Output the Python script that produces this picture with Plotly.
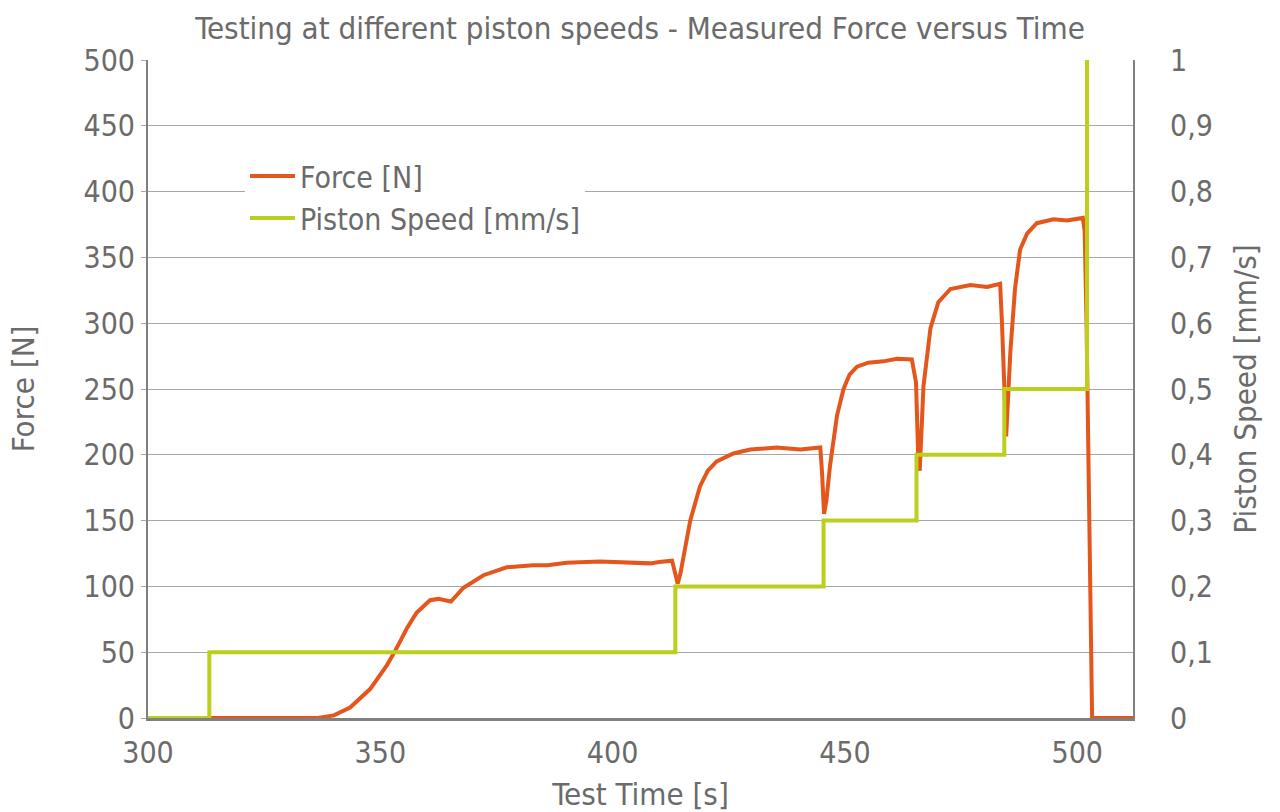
import plotly.graph_objects as go

# ---- data ----
force_time = [300, 336.5, 340, 343.5, 347.8, 351.4, 353.2, 355.7, 357.8, 359.5, 360.7, 362.5, 364.3, 365.2,
              367.9, 372.2, 377.2, 382.9, 386, 390.1, 397.3, 404.4, 408.1, 410, 412.8, 413.6, 414.0,
              414.6, 415.2, 416.7, 418.8, 420.5, 422.4, 426, 429.6, 435.3, 440.4, 444.7, 445.1, 445.5,
              446.0, 446.8, 448.3, 449.7, 451, 452.6, 455, 458.3, 461.2, 464.4, 465.3, 465.8, 466.1,
              466.5, 466.9, 468.4, 470.1, 472.7, 477, 480.6, 483.4, 483.8, 484.4, 484.7, 485.0, 485.6,
              486.6, 487.7, 489.2, 491.3, 494.9, 497.8, 501.2, 501.6, 502.0, 502.5, 503.2, 512]
force_value = [0, 0, 2, 8, 22, 40, 51, 68, 80, 86, 89.5, 90.5, 89.5, 88.5,
               99, 108.5, 114.5, 116, 116, 118, 119, 118.5, 117.5, 118.5, 119.5, 108, 102,
               110, 122, 150, 176, 188, 195, 201, 204, 205.5, 204, 205.5, 185, 155,
               165, 192, 230, 250, 261, 267, 270, 271, 273, 272.5, 255, 195, 188,
               225, 252, 296, 316, 326, 329, 327.5, 330, 300, 240, 214, 235, 278,
               326, 356, 368, 376, 379, 378, 380, 370, 300, 150, 0, 0]

speed_time = [300, 313.2, 413.5, 445.4, 465.4, 484.3, 502.1]
speed_value = [0, 0.1, 0.2, 0.3, 0.4, 0.5, 1.0]

x_ticks = [300, 350, 400, 450, 500]

FONT = "DejaVu Sans Condensed"
TXT = "#6b6b6b"
GRID = "#a8a8a8"
AXIS = "#808080"
ORANGE = "#e4561c"
GREEN = "#bccf1c"

fig = go.Figure()
fig.add_trace(go.Scatter(x=force_time, y=force_value, name="Force [N]", mode="lines",
                         line=dict(color=ORANGE, width=4)))
fig.add_trace(go.Scatter(x=speed_time, y=speed_value, name="Piston Speed [mm/s]", mode="lines",
                         line=dict(color=GREEN, width=4, shape="hv"), yaxis="y2"))

fig.update_layout(
    width=1280, height=812,
    margin=dict(l=148, r=147, t=60, b=94),
    paper_bgcolor="white", plot_bgcolor="white",
    separators=",.",
    font=dict(family=FONT, color=TXT, size=30),
    title=dict(text="Testing at different piston speeds - Measured Force versus Time",
               x=0.5, xanchor="center", y=1 - 28 / 812, yanchor="middle",
               font=dict(family=FONT, size=31, color=TXT)),
    xaxis=dict(range=[300, 512], tickvals=x_ticks, showgrid=False, zeroline=False,
               showline=True, linecolor=AXIS, linewidth=3, ticks="", automargin=False,
               ticklabelstandoff=6,
               tickfont=dict(size=30, color=TXT),
               title=dict(text="Test Time [s]", standoff=18, font=dict(size=31, color=TXT))),
    yaxis=dict(range=[0, 500], dtick=50, showgrid=True, gridcolor=GRID, gridwidth=1.3,
               zeroline=False, showline=True, linecolor=AXIS, linewidth=2, automargin=False,
               ticks="outside", ticklen=5, tickcolor=GRID, tickwidth=1.3,
               tickfont=dict(size=30, color=TXT),
               title=dict(text="Force [N]", standoff=40, font=dict(size=31, color=TXT))),
    yaxis2=dict(range=[0, 1], dtick=0.1, overlaying="y", side="right", showgrid=False,
                zeroline=False, showline=True, linecolor=AXIS, linewidth=2, ticks="",
                automargin=False, ticklabelstandoff=29,
                tickfont=dict(size=30, color=TXT),
                title=dict(text="Piston Speed [mm/s]", standoff=22, font=dict(size=31, color=TXT))),
    legend=dict(x=(245 - 148) / 985, y=1 - (150 - 60) / 658, xanchor="left", yanchor="top",
                bgcolor="white", borderwidth=0, itemwidth=45,
                font=dict(family=FONT, size=30, color=TXT), tracegroupgap=0),
    showlegend=True,
)

fig.write_html("out.html")
